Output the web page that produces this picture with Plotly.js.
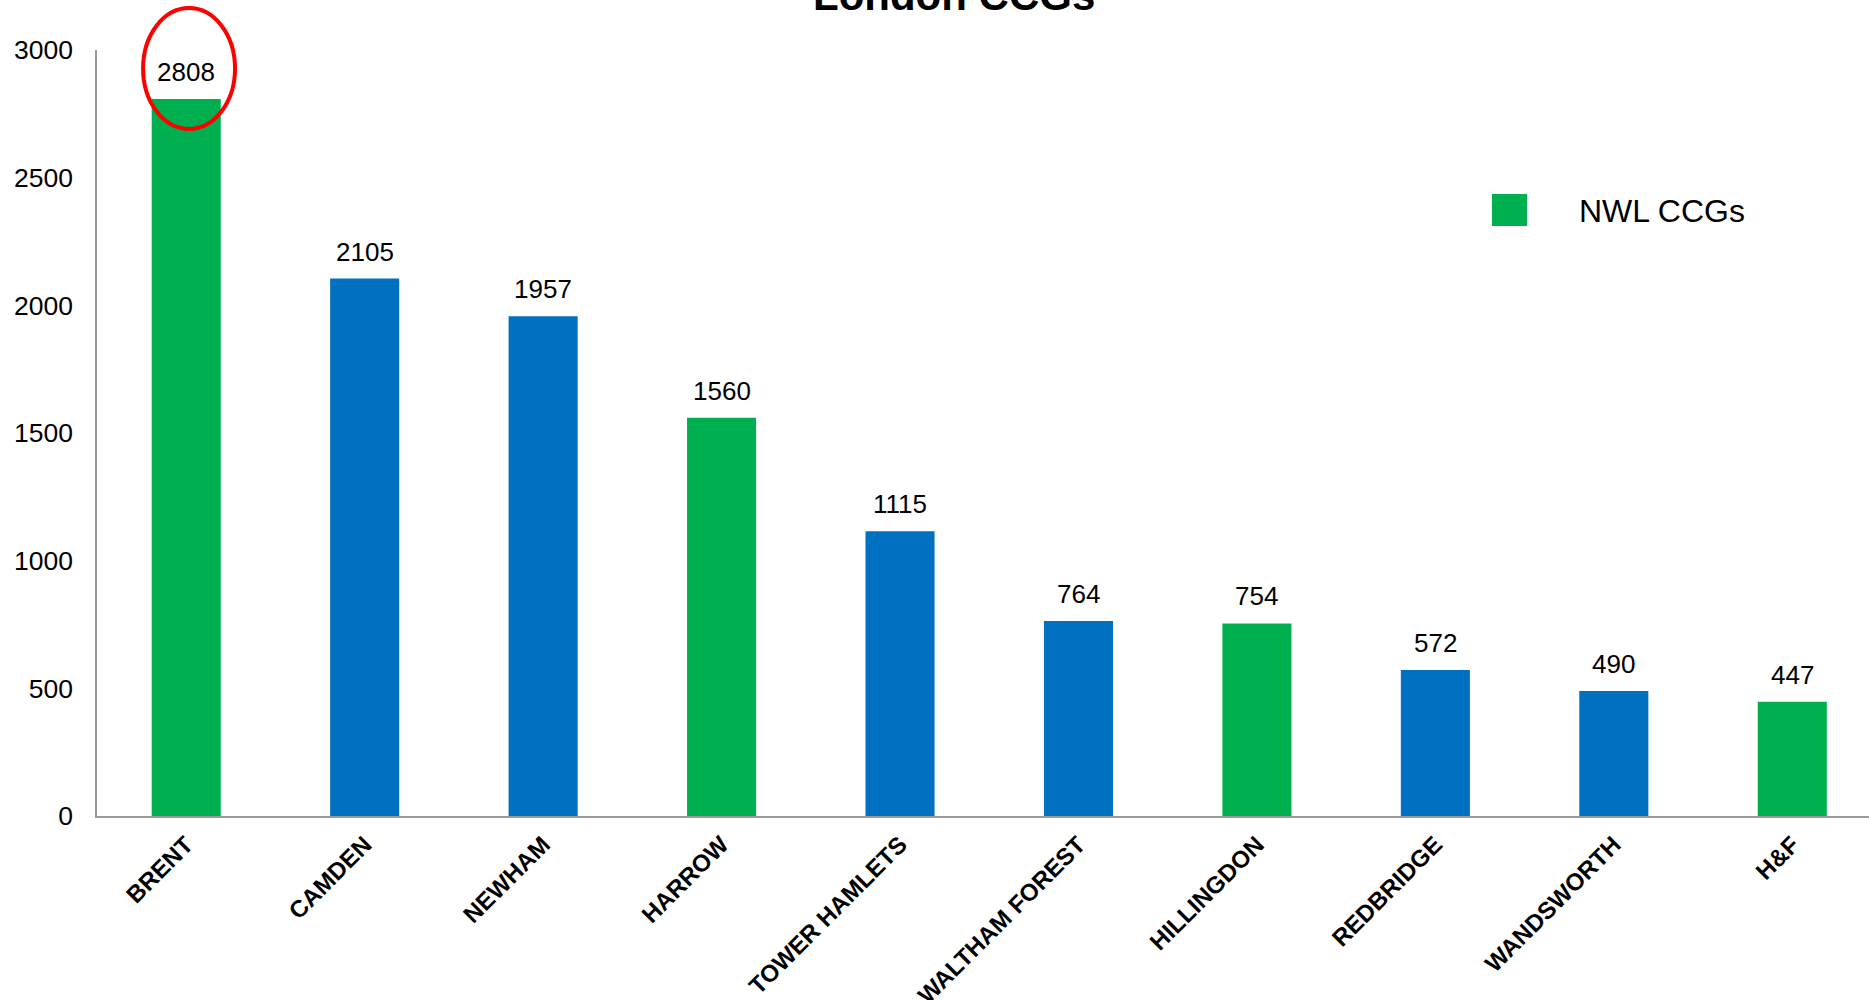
<!DOCTYPE html>
<html>
<head>
<meta charset="utf-8">
<script src="https://cdn.plot.ly/plotly-3.0.1.min.js"></script>
<style>html,body{margin:0;padding:0;background:#fff;}#chart{width:1869px;height:1000px;}</style>
</head>
<body>
<div id="chart"></div>
<script>
const categories = ["BRENT", "CAMDEN", "NEWHAM", "HARROW", "TOWER HAMLETS", "WALTHAM FOREST", "HILLINGDON", "REDBRIDGE", "WANDSWORTH", "H&F"];
const values = [2808, 2105, 1957, 1560, 1115, 764, 754, 572, 490, 447];
const isNWL = [true, false, false, true, false, false, true, false, false, true];
const yTicks = [0, 500, 1000, 1500, 2000, 2500, 3000];
const titleText = "London CCGs";
const legendLabel = "NWL CCGs";

const GREEN = "#00AF50";
const BLUE = "#0070C0";
const FONT = "Liberation Sans, Arial, sans-serif";

const trace = {
  type: "bar",
  x: categories,
  y: values,
  marker: { color: isNWL.map(g => g ? GREEN : BLUE), line: { width: 0 } },
  hoverinfo: "x+y",
  showlegend: false
};

const labelAnnotations = categories.map((c, i) => ({
  x: c, y: values[i], xref: "x", yref: "y",
  text: String(values[i]), showarrow: false,
  yanchor: "bottom", yshift: 10,
  font: { family: FONT, size: 26, color: "#000" }
}));

const layout = {
  width: 1869, height: 1000,
  margin: { l: 97, r: 0, t: 50, b: 184, pad: 0 },
  paper_bgcolor: "#fff", plot_bgcolor: "#fff",
  bargap: 0.613,
  font: { family: FONT, color: "#000" },
  xaxis: {
    type: "category",
    range: [-0.5, 9.43],
    showline: true, linecolor: "#9a9a9a", linewidth: 2,
    showgrid: false, zeroline: false, ticks: "",
    tickangle: -45,
    ticklabelstandoff: 3,
    tickfont: { family: FONT, size: 24, weight: "bold", color: "#000" }
  },
  yaxis: {
    range: [0, 3000],
    tickmode: "array", tickvals: yTicks, ticktext: yTicks.map(String),
    showline: true, linecolor: "#9a9a9a", linewidth: 1.5,
    showgrid: false, zeroline: false, ticks: "",
    ticklabelstandoff: 17,
    tickfont: { family: FONT, size: 26.5, color: "#000" }
  },
  annotations: labelAnnotations.concat([
    { xref: "paper", yref: "paper", x: 0.4836, y: 1.038, xanchor: "center", yanchor: "bottom",
      text: "<b>" + titleText + "</b>", showarrow: false,
      font: { family: FONT, size: 42, color: "#000" } },
    { xref: "paper", yref: "paper", x: 0.8352, y: 0.7898, xanchor: "left", yanchor: "middle",
      text: legendLabel, showarrow: false,
      font: { family: FONT, size: 32, color: "#000" } }
  ]),
  shapes: [
    { type: "rect", xref: "paper", yref: "paper", x0: 0.7872, x1: 0.8070, y0: 0.7702, y1: 0.8120,
      fillcolor: GREEN, line: { width: 0 } },
    { type: "circle", xref: "paper", yref: "paper", x0: 0.0260, x1: 0.0779, y0: 0.8969, y1: 1.0548,
      line: { color: "#FF0000", width: 4 }, fillcolor: "rgba(0,0,0,0)" }
  ]
};

Plotly.newPlot("chart", [trace], layout, { displayModeBar: false, responsive: false });
</script>
</body>
</html>
